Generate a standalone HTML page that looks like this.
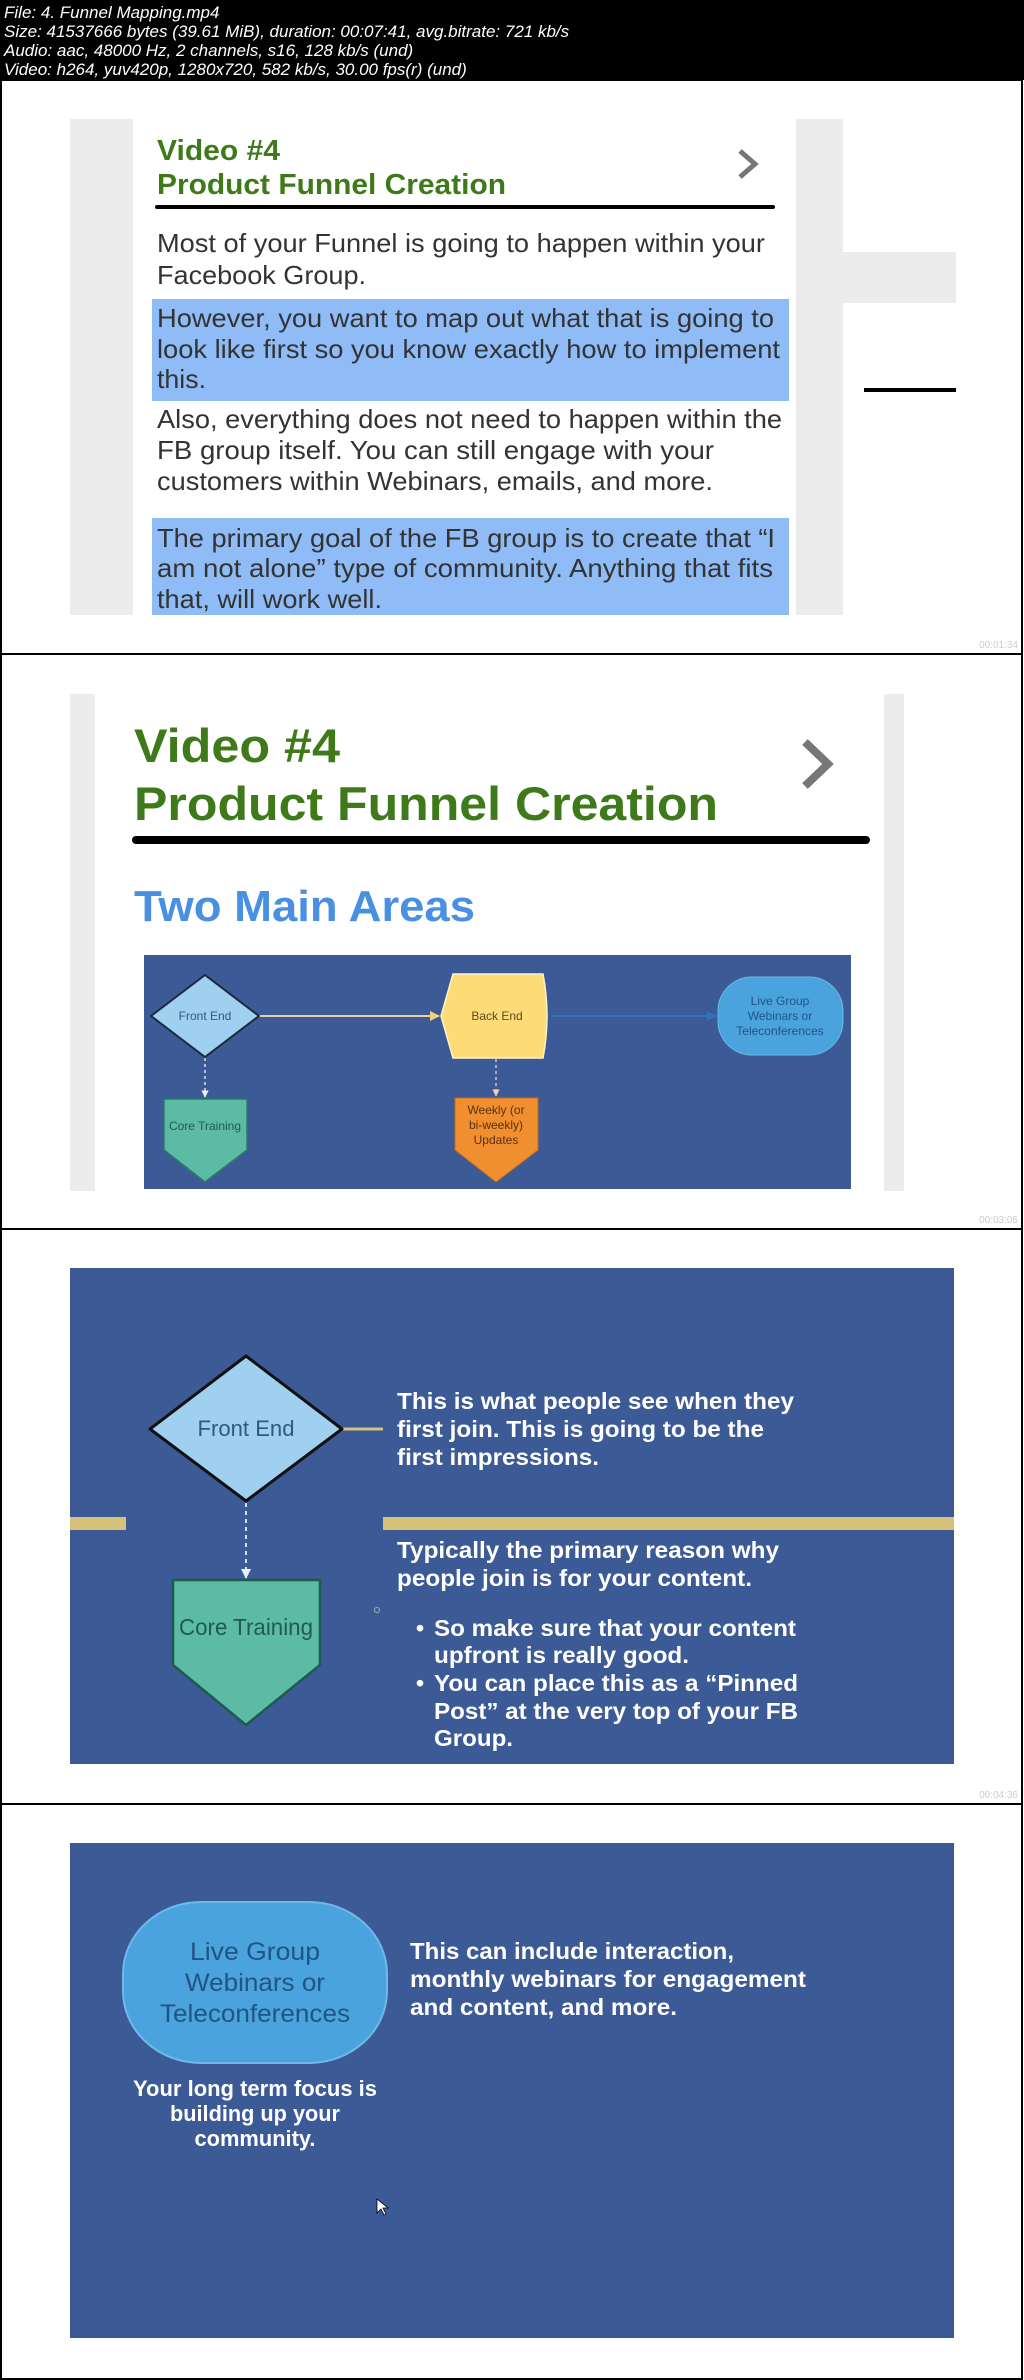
<!DOCTYPE html>
<html><head><meta charset="utf-8"><style>
html,body{margin:0;padding:0;background:#fff;}
svg{display:block;}
text{font-family:"Liberation Sans",Arial,sans-serif;}
</style></head><body>
<svg width="1024" height="2380" viewBox="0 0 1024 2380" xmlns="http://www.w3.org/2000/svg">
<defs>
<marker id="ay" viewBox="0 0 10 10" refX="9" refY="5" markerWidth="5" markerHeight="5" orient="auto"><path d="M0,0L10,5L0,10Z" fill="#f3d27a"/></marker>
<marker id="ab" viewBox="0 0 10 10" refX="9" refY="5" markerWidth="5" markerHeight="5" orient="auto"><path d="M0,0L10,5L0,10Z" fill="#2f74b8"/></marker>
<marker id="aw" viewBox="0 0 10 10" refX="9" refY="5" markerWidth="5" markerHeight="5" orient="auto"><path d="M0,0L10,5L0,10Z" fill="#e8f4ff"/></marker>
<marker id="ap" viewBox="0 0 10 10" refX="9" refY="5" markerWidth="5" markerHeight="5" orient="auto"><path d="M0,0L10,5L0,10Z" fill="#f6c9b0"/></marker>
</defs>
<rect x="0" y="0" width="1024" height="80" fill="#000"/>
<g fill="#fff" font-size="17" font-style="italic">
<text x="4" y="18">File: 4. Funnel Mapping.mp4</text>
<text x="4" y="37">Size: 41537666 bytes (39.61 MiB), duration: 00:07:41, avg.bitrate: 721 kb/s</text>
<text x="4" y="56">Audio: aac, 48000 Hz, 2 channels, s16, 128 kb/s (und)</text>
<text x="4" y="75">Video: h264, yuv420p, 1280x720, 582 kb/s, 30.00 fps(r) (und)</text>
</g>
<rect x="1" y="80" width="1021" height="574" fill="#fff" stroke="#000" stroke-width="2"/>
<rect x="1" y="654" width="1021" height="575" fill="#fff" stroke="#000" stroke-width="2"/>
<rect x="1" y="1229" width="1021" height="575" fill="#fff" stroke="#000" stroke-width="2"/>
<rect x="1" y="1804" width="1021" height="575" fill="#fff" stroke="#000" stroke-width="2"/>

<!-- FRAME 1 -->
<rect x="70" y="119" width="773" height="496" fill="#ececec"/>
<rect x="133" y="119" width="663" height="496" fill="#fff"/>
<rect x="843" y="252" width="113" height="51" fill="#ececec"/>
<rect x="864" y="388" width="92" height="4" fill="#000"/>
<g fill="#3f7a1a" font-weight="bold" font-size="29">
<text x="157" y="160" textLength="123" lengthAdjust="spacingAndGlyphs">Video #4</text>
<text x="157" y="194" textLength="349" lengthAdjust="spacingAndGlyphs">Product Funnel Creation</text>
</g>
<line x1="157" y1="207" x2="773" y2="207" stroke="#000" stroke-width="4" stroke-linecap="round"/>
<path d="M740,151 L755,164 L740,177" fill="none" stroke="#777" stroke-width="5"/>
<rect x="152" y="299" width="637" height="102" fill="#8fbcf7"/>
<rect x="152" y="518" width="637" height="97" fill="#8fbcf7"/>
<g fill="#333" font-size="26">
<text x="157" y="252" textLength="608" lengthAdjust="spacingAndGlyphs">Most of your Funnel is going to happen within your</text>
<text x="157" y="284" textLength="209" lengthAdjust="spacingAndGlyphs">Facebook Group.</text>
<text x="157" y="327" textLength="617" lengthAdjust="spacingAndGlyphs">However, you want to map out what that is going to</text>
<text x="157" y="358" textLength="623" lengthAdjust="spacingAndGlyphs">look like first so you know exactly how to implement</text>
<text x="157" y="388" textLength="49" lengthAdjust="spacingAndGlyphs">this.</text>
<text x="157" y="428" textLength="625" lengthAdjust="spacingAndGlyphs">Also, everything does not need to happen within the</text>
<text x="157" y="459" textLength="557" lengthAdjust="spacingAndGlyphs">FB group itself.  You can still engage with your</text>
<text x="157" y="490" textLength="556" lengthAdjust="spacingAndGlyphs">customers within Webinars, emails, and more.</text>
<text x="157" y="547" textLength="618" lengthAdjust="spacingAndGlyphs">The primary goal of the FB group is to create that “I</text>
<text x="157" y="577" textLength="616" lengthAdjust="spacingAndGlyphs">am not alone” type of community.  Anything that fits</text>
<text x="157" y="608" textLength="225" lengthAdjust="spacingAndGlyphs">that, will work well.</text>
</g>
<text x="1018" y="648" fill="#ccc" font-size="10" text-anchor="end">00:01:34</text>

<!-- FRAME 2 -->
<rect x="70" y="694" width="834" height="497" fill="#ececec"/>
<rect x="95" y="694" width="789" height="497" fill="#fff"/>
<g fill="#3f7a1a" font-weight="bold" font-size="47">
<text x="134" y="762" textLength="206" lengthAdjust="spacingAndGlyphs">Video #4</text>
<text x="134" y="820" textLength="584" lengthAdjust="spacingAndGlyphs">Product Funnel Creation</text>
</g>
<line x1="136" y1="840" x2="866" y2="840" stroke="#000" stroke-width="8" stroke-linecap="round"/>
<path d="M805,742 L828,764 L805,786" fill="none" stroke="#777" stroke-width="8"/>
<text x="134" y="921" fill="#4a90e2" font-weight="bold" font-size="44" textLength="341" lengthAdjust="spacingAndGlyphs">Two Main Areas</text>
<rect x="144" y="955" width="707" height="234" fill="#3b5a96"/>
<line x1="259" y1="1016" x2="439" y2="1016" stroke="#e8d49a" stroke-width="2" marker-end="url(#ay)"/>
<line x1="551" y1="1016" x2="716" y2="1016" stroke="#2f74b8" stroke-width="2" marker-end="url(#ab)"/>
<line x1="205" y1="1058" x2="205" y2="1097" stroke="#cfe3f5" stroke-width="1.5" stroke-dasharray="3,3" marker-end="url(#aw)"/>
<line x1="496" y1="1059" x2="496" y2="1096" stroke="#e8c0b0" stroke-width="1.5" stroke-dasharray="3,3" marker-end="url(#ap)"/>
<path d="M205,975 L259,1016 L205,1057 L151,1016 Z" fill="#9fd0f0" stroke="#1a2a3a" stroke-width="2" stroke-linejoin="round"/>
<path d="M453,974 L543,974 Q551,1016 543,1058 L453,1058 L441,1016 Z" fill="#fddc78" stroke="#fff3c8" stroke-width="1.5"/>
<rect x="718" y="977" width="125" height="78" rx="34" ry="34" fill="#4aa3dc" stroke="#6bb8e8" stroke-width="1"/>
<path d="M164,1099 L247,1099 L247,1150 L205,1182 L164,1150 Z" fill="#5bbba5" stroke="#2d7a68" stroke-width="1.5"/>
<path d="M455,1098 L538,1098 L538,1150 L496,1182 L455,1150 Z" fill="#ef8f30" stroke="#c46a1a" stroke-width="1"/>
<g font-size="12" text-anchor="middle">
<text x="205" y="1020" fill="#2c5a80">Front End</text>
<text x="497" y="1020" fill="#5a4a20">Back End</text>
<text x="780" y="1005" fill="#1f5585">Live Group</text>
<text x="780" y="1020" fill="#1f5585">Webinars or</text>
<text x="780" y="1035" fill="#1f5585">Teleconferences</text>
<text x="205" y="1130" fill="#1f5a55">Core Training</text>
<text x="496" y="1114" fill="#5a3010">Weekly (or</text>
<text x="496" y="1129" fill="#5a3010">bi-weekly)</text>
<text x="496" y="1144" fill="#5a3010">Updates</text>
</g>
<text x="1018" y="1223" fill="#ccc" font-size="10" text-anchor="end">00:03:05</text>

<!-- FRAME 3 -->
<rect x="70" y="1268" width="884" height="496" fill="#3b5a96"/>
<rect x="70" y="1517" width="56" height="13" fill="#d8c27a"/>
<rect x="383" y="1517" width="571" height="13" fill="#d8c27a"/>
<line x1="342" y1="1429" x2="383" y2="1429" stroke="#d8c27a" stroke-width="3"/>
<line x1="246" y1="1503" x2="246" y2="1578" stroke="#cfe3f5" stroke-width="2" stroke-dasharray="4,4" marker-end="url(#aw)"/>
<path d="M246,1356 L342,1429 L246,1501 L150,1429 Z" fill="#9fd0f0" stroke="#111" stroke-width="3" stroke-linejoin="round"/>
<path d="M173,1580 L320,1580 L320,1665 L246,1725 L173,1665 Z" fill="#5bbba5" stroke="#1f5a50" stroke-width="2.5" stroke-linejoin="round"/>
<text x="246" y="1436" fill="#2c5a80" font-size="22" text-anchor="middle" textLength="97" lengthAdjust="spacingAndGlyphs">Front End</text>
<text x="246" y="1635" fill="#1f5a55" font-size="23" text-anchor="middle" textLength="134" lengthAdjust="spacingAndGlyphs">Core Training</text>
<g fill="#fff" font-weight="bold" font-size="23">
<text x="397" y="1409" textLength="397" lengthAdjust="spacingAndGlyphs">This is what people see when they</text>
<text x="397" y="1437" textLength="367" lengthAdjust="spacingAndGlyphs">first join. This is going to be the</text>
<text x="397" y="1465" textLength="202" lengthAdjust="spacingAndGlyphs">first impressions.</text>
<text x="397" y="1558" textLength="382" lengthAdjust="spacingAndGlyphs">Typically the primary reason why</text>
<text x="397" y="1586" textLength="355" lengthAdjust="spacingAndGlyphs">people join is for your content.</text>
<text x="416" y="1636">•</text>
<text x="434" y="1636" textLength="362" lengthAdjust="spacingAndGlyphs">So make sure that your content</text>
<text x="434" y="1663" textLength="255" lengthAdjust="spacingAndGlyphs">upfront is really good.</text>
<text x="416" y="1691">•</text>
<text x="434" y="1691" textLength="364" lengthAdjust="spacingAndGlyphs">You can place this as a “Pinned</text>
<text x="434" y="1719" textLength="364" lengthAdjust="spacingAndGlyphs">Post” at the very top of your FB</text>
<text x="434" y="1746" textLength="79" lengthAdjust="spacingAndGlyphs">Group.</text>
</g>
<circle cx="377" cy="1610" r="2.5" fill="none" stroke="#aaa" stroke-width="1"/>
<text x="1018" y="1798" fill="#ccc" font-size="10" text-anchor="end">00:04:36</text>

<!-- FRAME 4 -->
<rect x="70" y="1843" width="884" height="495" fill="#3b5a96"/>
<rect x="123" y="1902" width="264" height="161" rx="78" ry="72" fill="#4aa3dc" stroke="#6fb9ea" stroke-width="2"/>
<g fill="#1f5585" font-size="25" text-anchor="middle">
<text x="255" y="1960" textLength="130" lengthAdjust="spacingAndGlyphs">Live Group</text>
<text x="255" y="1991" textLength="140" lengthAdjust="spacingAndGlyphs">Webinars or</text>
<text x="255" y="2022" textLength="190" lengthAdjust="spacingAndGlyphs">Teleconferences</text>
</g>
<g fill="#fff" font-weight="bold" font-size="23">
<text x="410" y="1959" textLength="324" lengthAdjust="spacingAndGlyphs">This can include interaction,</text>
<text x="410" y="1987" textLength="396" lengthAdjust="spacingAndGlyphs">monthly webinars for engagement</text>
<text x="410" y="2015" textLength="267" lengthAdjust="spacingAndGlyphs">and content, and more.</text>
</g>
<g fill="#fff" font-weight="bold" font-size="22" text-anchor="middle">
<text x="255" y="2096" textLength="244" lengthAdjust="spacingAndGlyphs">Your long term focus is</text>
<text x="255" y="2121" textLength="170" lengthAdjust="spacingAndGlyphs">building up your</text>
<text x="255" y="2146" textLength="121" lengthAdjust="spacingAndGlyphs">community.</text>
</g>
<path d="M377,2199 L377,2213 L381,2209 L384,2215 L386,2214 L383,2208 L388,2208 Z" fill="#fff" stroke="#000" stroke-width="0.8"/>
</svg>
</body></html>
